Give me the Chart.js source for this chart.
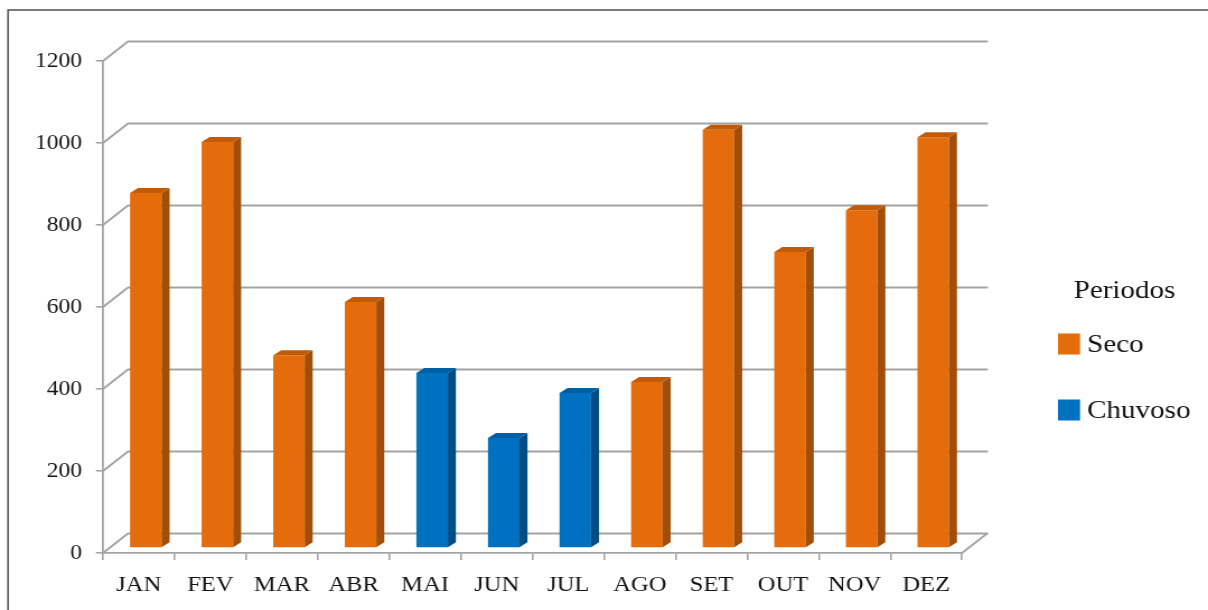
<!DOCTYPE html>
<html>
<head>
<meta charset="utf-8">
<script src="https://cdn.jsdelivr.net/npm/chart.js@4.4.1/dist/chart.umd.min.js"></script>
<style>
  html, body { margin: 0; padding: 0; background: #fff; overflow: hidden; }
  canvas { display: block; }
</style>
</head>
<body>
<canvas id="chart" width="1079" height="610" style="width:1208px;height:610px"></canvas>
<script>
// Monthly totals by period
const months = ['JAN', 'FEV', 'MAR', 'ABR', 'MAI', 'JUN', 'JUL', 'AGO', 'SET', 'OUT', 'NOV', 'DEZ'];
const secoValues = [866, 990, 470, 600, null, null, null, 405, 1020, 722, 824, 1002];
const chuvosoValues = [null, null, null, null, 427, 268, 378, null, null, null, null, null];
const seriesNames = ['Seco', 'Chuvoso'];
const legendTitle = 'Periodos';
const yTickValues = [0, 200, 400, 600, 800, 1000, 1200];

// The canvas is drawn narrower and stretched horizontally by CSS
const SX = 1208 / 1079;
const FONT = '"Liberation Serif", "Times New Roman", serif';
const GRID = '#a3a3a3';
const TEXT = '#141414';

const palette = {
  Seco:    { front: '#e46c0a', side: '#a24e09', top: '#c25b09' },
  Chuvoso: { front: '#0070c0', side: '#004d86', top: '#005fa4' }
};

// depth offsets (canvas units)
const WALL = { dx: 25 / SX, dy: -19.5 };   // front plane -> back wall
const BARSHIFT = { dx: 7 / SX, dy: -5 };   // front plane -> bar front face
const BARDEPTH = { dx: 8 / SX, dy: -5 };   // bar front face -> bar back face

const threeD = {
  id: 'threeD',
  beforeDatasetsDraw(chart) {
    const { ctx, chartArea: a, scales: { y } } = chart;
    ctx.save();
    ctx.strokeStyle = GRID;
    ctx.lineWidth = 1.8;
    ctx.lineCap = 'round';
    y.ticks.forEach(t => {
      const yy = y.getPixelForValue(t.value);
      ctx.beginPath();
      ctx.moveTo(a.left, yy);
      ctx.lineTo(a.left + WALL.dx, yy + WALL.dy);
      ctx.lineTo(a.right + WALL.dx, yy + WALL.dy);
      ctx.stroke();
    });
    // floor right edge
    ctx.beginPath();
    ctx.moveTo(a.right, a.bottom);
    ctx.lineTo(a.right + WALL.dx, a.bottom + WALL.dy);
    ctx.stroke();
    ctx.restore();

    ctx.save();
    ctx.translate(BARSHIFT.dx, BARSHIFT.dy);
  },
  afterDatasetsDraw(chart) {
    const { ctx } = chart;
    chart.data.datasets.forEach((ds, i) => {
      const meta = chart.getDatasetMeta(i);
      const col = palette[ds.label];
      meta.data.forEach((bar, j) => {
        if (ds.data[j] === null || ds.data[j] === undefined) return;
        const p = bar.getProps(['x', 'y', 'base', 'width'], true);
        const l = p.x - p.width / 2, r = p.x + p.width / 2;
        const top = Math.min(p.y, p.base), bot = Math.max(p.y, p.base);
        // side face
        ctx.fillStyle = col.side;
        ctx.beginPath();
        ctx.moveTo(r, top);
        ctx.lineTo(r + BARDEPTH.dx, top + BARDEPTH.dy);
        ctx.lineTo(r + BARDEPTH.dx, bot + BARDEPTH.dy);
        ctx.lineTo(r, bot);
        ctx.closePath();
        ctx.fill();
        // top face
        ctx.fillStyle = col.top;
        ctx.beginPath();
        ctx.moveTo(l, top);
        ctx.lineTo(l + BARDEPTH.dx, top + BARDEPTH.dy);
        ctx.lineTo(r + BARDEPTH.dx, top + BARDEPTH.dy);
        ctx.lineTo(r, top);
        ctx.closePath();
        ctx.fill();
      });
    });
    ctx.restore();
  },
  afterDraw(chart) {
    const { ctx } = chart;
    ctx.save();
    // outer frame
    ctx.strokeStyle = '#505050';
    ctx.lineWidth = 1.5;
    ctx.strokeRect(8 / SX, 10, 2000, 2000);

    // legend
    ctx.fillStyle = TEXT;
    ctx.font = '26px ' + FONT;
    ctx.textBaseline = 'middle';
    ctx.textAlign = 'center';
    ctx.fillText(legendTitle, 1124.5 / SX, 291);
    ctx.textAlign = 'left';
    const rows = [344, 410];
    chart.data.datasets.forEach((ds, i) => {
      const cy = rows[i];
      ctx.fillStyle = ds.backgroundColor;
      ctx.fillRect(1058 / SX, cy - 10.5, 22 / SX, 21);
      ctx.fillStyle = TEXT;
      ctx.fillText(ds.label, 1087 / SX, cy + 1);
    });
    ctx.restore();
  }
};

new Chart(document.getElementById('chart'), {
  type: 'bar',
  data: {
    labels: months,
    datasets: [
      { label: seriesNames[0], data: secoValues, backgroundColor: palette.Seco.front },
      { label: seriesNames[1], data: chuvosoValues, backgroundColor: palette.Chuvoso.front }
    ]
  },
  options: {
    responsive: false,
    animation: false,
    events: [],
    layout: { padding: { left: 0, top: 61, right: 1079 - 962 / SX, bottom: 0 } },
    datasets: {
      bar: { grouped: false, categoryPercentage: 1, barPercentage: 0.44, borderWidth: 0, clip: false }
    },
    plugins: { legend: { display: false }, tooltip: { enabled: false } },
    scales: {
      x: {
        afterFit: s => { s.height = 57; },
        border: { display: true, color: GRID, width: 1.8 },
        grid: { display: true, drawOnChartArea: false, drawTicks: true, tickLength: 7, color: GRID, lineWidth: 1.6 },
        ticks: { color: TEXT, padding: 12, font: { family: FONT, size: 22 } }
      },
      y: {
        min: 0,
        max: 1200,
        afterFit: s => { s.width = 103 / SX; },
        afterBuildTicks: s => { s.ticks = yTickValues.map(v => ({ value: v })); },
        border: { display: true, color: GRID, width: 1.8 },
        grid: { display: true, drawOnChartArea: false, drawTicks: true, tickLength: 7 / SX, color: GRID, lineWidth: 1.6 },
        ticks: {
          color: TEXT, padding: 12.5, font: { family: FONT, size: 21 },
          callback: v => String(v)
        }
      }
    }
  },
  plugins: [threeD]
});
</script>
</body>
</html>
